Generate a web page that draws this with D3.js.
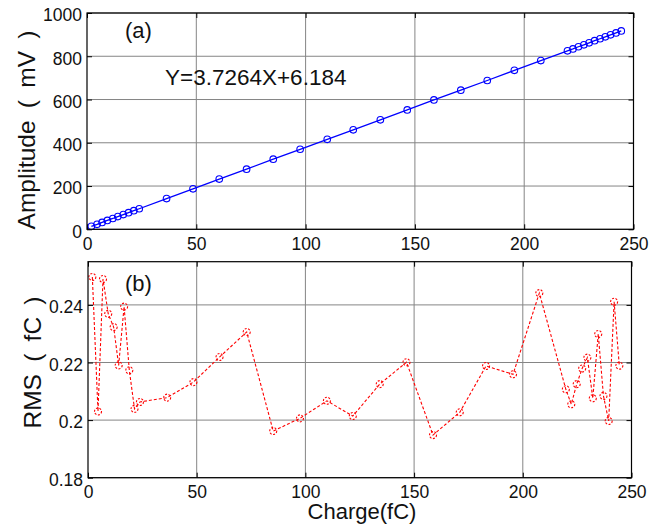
<!DOCTYPE html>
<html>
<head>
<meta charset="utf-8">
<script src="https://cdn.jsdelivr.net/npm/d3@7/dist/d3.min.js"></script>
<style>
body { margin: 0; background: #fff; }
svg { display: block; font-family: Arial, "Liberation Sans", sans-serif; }
</style>
</head>
<body>
<svg width="664" height="526"></svg>
<script>
// data
var charge = [2.0, 4.6, 6.9, 9.3, 11.8, 14.1, 16.6, 19.0, 21.4, 23.9, 36.4, 48.5, 60.5, 73.0, 85.2,
    97.5, 109.9, 121.8, 134.2, 146.5, 158.7, 171.0, 183.1, 195.5, 207.6, 219.8, 222.3, 224.8, 227.3,
    229.7, 232.2, 234.7, 237.1, 239.5, 242.0, 244.4];
var amplitude = [14, 23, 32, 41, 50, 59, 68, 77, 86, 95, 142, 187, 232, 278, 324, 370, 416, 460, 506,
    552, 598, 643, 688, 735, 780, 825, 834, 844, 853, 862, 872, 881, 890, 899, 908, 917];
var rms = [0.2497, 0.2030, 0.2490, 0.2369, 0.2323, 0.2190, 0.2394, 0.2173, 0.2039, 0.2063, 0.2078,
    0.2132, 0.2219, 0.2306, 0.1962, 0.2006, 0.2067, 0.2014, 0.2125, 0.2201, 0.1948, 0.2027, 0.2188,
    0.2159, 0.2441, 0.2107, 0.2055, 0.2125, 0.2179, 0.2217, 0.2076, 0.2299, 0.2084, 0.1997, 0.2411, 0.2189];
var xTicks = [0, 50, 100, 150, 200, 250];
var ampTicks = [0, 200, 400, 600, 800, 1000];
var rmsTicks = [0.18, 0.2, 0.22, 0.24];
var rmsTickLabels = ["0.18", "0.2", "0.22", "0.24"];

var svg = d3.select("svg");

// draws one MATLAB-like box with grid and inward ticks
function drawFrame(box, x, y, yTicks, yFormat) {
    var g = svg.append("g");

    // grid
    g.selectAll(".gx").data(xTicks.slice(1, -1)).enter().append("line")
        .attr("x1", function(d) { return x(d); }).attr("x2", function(d) { return x(d); })
        .attr("y1", box.top).attr("y2", box.bottom)
        .attr("stroke", "#858585").attr("stroke-width", 1);
    g.selectAll(".gy").data(yTicks).enter().append("line")
        .attr("x1", box.left).attr("x2", box.right)
        .attr("y1", function(d) { return y(d); }).attr("y2", function(d) { return y(d); })
        .attr("stroke", "#858585").attr("stroke-width", 1);

    var bottomAxis = d3.axisBottom(x).tickValues(xTicks).tickSizeInner(-5).tickSizeOuter(0).tickPadding(7.8);
    var topAxis = d3.axisTop(x).tickValues(xTicks).tickSizeInner(-5).tickSizeOuter(0).tickFormat("");
    var leftAxis = d3.axisLeft(y).tickValues(yTicks).tickSizeInner(-5).tickSizeOuter(0).tickPadding(5)
        .tickFormat(yFormat);
    var rightAxis = d3.axisRight(y).tickValues(yTicks).tickSizeInner(-5).tickSizeOuter(0).tickFormat("");

    var axes = [
        g.append("g").attr("transform", "translate(0," + box.bottom + ")").call(bottomAxis),
        g.append("g").attr("transform", "translate(0," + box.top + ")").call(topAxis),
        g.append("g").attr("transform", "translate(" + box.left + ",0)").call(leftAxis),
        g.append("g").attr("transform", "translate(" + box.right + ",0)").call(rightAxis)
    ];
    axes.forEach(function(a) {
        a.select(".domain").remove();
        a.selectAll("line").attr("stroke", "#000");
        a.selectAll("text").attr("fill", "#111").style("font-size", "17.5px")
            .style("font-family", "Arial, 'Liberation Sans', sans-serif");
    });
    axes[2].selectAll("text").attr("dy", "0.45em");

    return g;
}

function finishFrame(box) {
    svg.append("rect")
        .attr("x", box.left).attr("y", box.top)
        .attr("width", box.right - box.left).attr("height", box.bottom - box.top)
        .attr("fill", "none").attr("stroke", "#000").attr("stroke-width", 1.2);
}

// (a) amplitude vs charge
var boxA = { left: 87, right: 633.5, top: 13, bottom: 229.3 };
var xA = d3.scaleLinear().domain([0, 250]).range([boxA.left, boxA.right]);
var yA = d3.scaleLinear().domain([0, 1000]).range([boxA.bottom, boxA.top]);
drawFrame(boxA, xA, yA, ampTicks, function(d) { return d; });

var lineA = d3.line()
    .x(function(d, i) { return xA(charge[i]); })
    .y(function(d) { return yA(d); });
svg.append("path").datum(amplitude)
    .attr("d", lineA).attr("fill", "none").attr("stroke", "#0000ff").attr("stroke-width", 1.3);
svg.append("g").selectAll("circle").data(amplitude).enter().append("circle")
    .attr("cx", function(d, i) { return xA(charge[i]); })
    .attr("cy", function(d) { return yA(d); })
    .attr("r", 3.3)
    .attr("fill", "none").attr("stroke", "#0000ff").attr("stroke-width", 1.1);
finishFrame(boxA);

svg.append("text").attr("x", 125).attr("y", 38).style("font-size", "22px").attr("fill", "#111").text("(a)");
svg.append("text").attr("x", 165).attr("y", 85).style("font-size", "22.5px").attr("fill", "#111")
    .text("Y=3.7264X+6.184");
// en spaces so the gaps round the brackets survive
svg.append("text").attr("transform", "translate(35,130) rotate(-90)")
    .attr("text-anchor", "middle").style("font-size", "24.5px").attr("fill", "#111")
    .text("Amplitude\u2002(\u2002mV\u2002)");

// (b) rms vs charge
var boxB = { left: 88, right: 631.5, top: 261.7, bottom: 477.7 };
var xB = d3.scaleLinear().domain([0, 250]).range([boxB.left, boxB.right]);
var yB = d3.scaleLinear().domain([0.18, 0.255]).range([boxB.bottom, boxB.top]);
drawFrame(boxB, xB, yB, rmsTicks, function(d, i) { return rmsTickLabels[i]; });

var lineB = d3.line()
    .x(function(d, i) { return xB(charge[i]); })
    .y(function(d) { return yB(d); });
svg.append("path").datum(rms)
    .attr("d", lineB).attr("fill", "none").attr("stroke", "#ff0000")
    .attr("stroke-width", 1.1).attr("stroke-dasharray", "3,2");
svg.append("g").selectAll("circle").data(rms).enter().append("circle")
    .attr("cx", function(d, i) { return xB(charge[i]); })
    .attr("cy", function(d) { return yB(d); })
    .attr("r", 3.5)
    .attr("fill", "none").attr("stroke", "#ff0000").attr("stroke-width", 1.1)
    .attr("stroke-dasharray", "2,1.5");
finishFrame(boxB);

svg.append("text").attr("x", 125).attr("y", 291).style("font-size", "22px").attr("fill", "#111").text("(b)");
svg.append("text").attr("transform", "translate(41,362.5) rotate(-90)")
    .attr("text-anchor", "middle").style("font-size", "24.5px").attr("fill", "#111")
    .text("RMS\u2002(\u2002fC\u2002)");
svg.append("text").attr("x", 362).attr("y", 519).attr("text-anchor", "middle")
    .style("font-size", "22px").attr("fill", "#111").text("Charge(fC)");
</script>
</body>
</html>
